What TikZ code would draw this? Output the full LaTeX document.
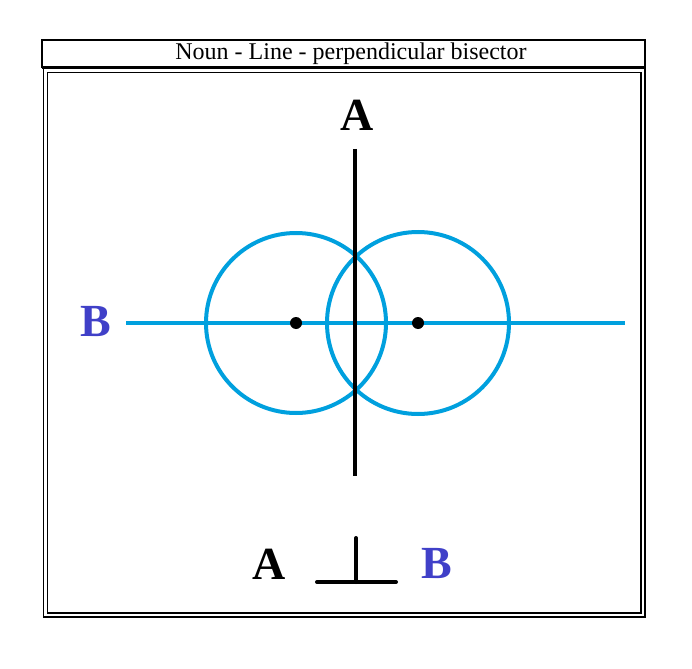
\documentclass[tikz,border=0pt]{standalone}
\usepackage{fontspec}
\setmainfont{Liberation Serif}
\definecolor{cblue}{RGB}{0,160,222}
\definecolor{lblue}{RGB}{64,64,200}
\begin{document}
\begin{tikzpicture}[x=1pt,y=-1pt,
  frame/.style={draw=black,line width=1.3pt},
  circ/.style={draw=cblue,line width=4pt},
  blk/.style={draw=black,line width=4.5pt},
  big/.style={font=\bfseries\fontsize{46}{46}\selectfont,inner sep=0pt}]
\useasboundingbox (0,0) rectangle (692,668);
% frames
\draw[frame] (42,40) rectangle (645,67);
\draw[black,line width=2.2pt] (42,67.5) -- (645,67.5);
\draw[frame] (43.5,67.5) rectangle (645,617);
\draw[frame] (47.5,72.5) rectangle (641,613);
\node[font=\fontsize{24}{24}\selectfont,inner sep=0pt] (title) at (351,54) {Noun - Line - perpendicular bisector};
% circles
\coordinate (c1) at (296,323);
\coordinate (c2) at (418,323);
\draw[circ] (c1) circle (90);
\draw[circ] (c2) circle (91);
% horizontal line
\coordinate (h1) at (126,323);
\coordinate (h2) at (625,323);
\draw[cblue,line width=4pt] (h1) -- (h2);
% vertical line
\coordinate (v1) at (355,149);
\coordinate (v2) at (355,476);
\draw[blk] (v1) -- (v2);
\fill[black] (c1) circle (6);
\fill[black] (c2) circle (6);
% labels
\node[big] (A) at (357,115) {A};
\node[big,text=lblue] (B) at (96,322) {B};
\node[big] (A2) at (269,564) {A};
\node[big,text=lblue] (B2) at (437,563) {B};
% perp symbol
\coordinate (p1) at (356,538);
\coordinate (p2) at (356,582);
\coordinate (p3) at (317,582);
\coordinate (p4) at (396,582);
\draw[black,line width=4pt,line cap=round] (p1) -- (p2);
\draw[black,line width=4pt,line cap=round] (p3) -- (p4);
\end{tikzpicture}
\end{document}
